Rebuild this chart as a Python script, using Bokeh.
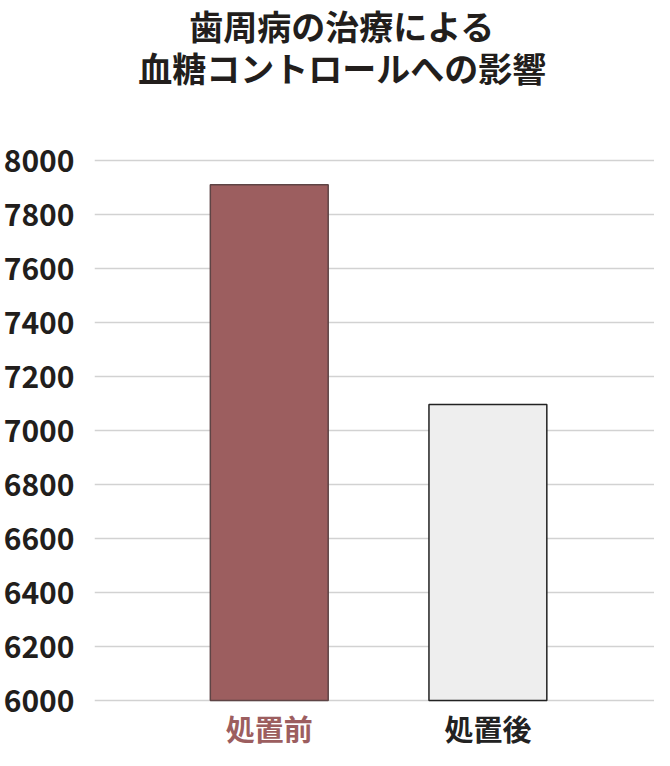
from bokeh.plotting import figure
from bokeh.models import Range1d, FixedTicker, ColumnDataSource
from bokeh.core.properties import value
from bokeh.embed import file_html
from bokeh.resources import INLINE

# ---- data ----
title_lines = ["歯周病の治療による", "血糖コントロールへの影響"]
categories = ["処置前", "処置後"]
values = [7910, 7096]
bar_colors = ["#9c5e5f", "#eeeeee"]
bar_line_colors = ["#5e4445", "#222222"]
label_colors = ["#9c5e5f", "#222222"]
y_ticks = [6000, 6200, 6400, 6600, 6800, 7000, 7200, 7400, 7600, 7800, 8000]

FONT = "Noto Sans CJK JP"
TXT = "#221e1c"

# ---- layout geometry (pixels) ----
W, H = 654, 750
frame_left = 91
y_top_px, y_bot_px = 160, 700          # pixel rows of the first/last tick
ppu_y = (y_bot_px - y_top_px) / (y_ticks[-1] - y_ticks[0])
y_end = y_ticks[-1] + y_top_px / ppu_y
y_start = y_ticks[0] - (H - y_bot_px) / ppu_y

bar_center_px = [266.7, 486.5]
ppu_x = bar_center_px[1] - bar_center_px[0]
x_start = -(bar_center_px[0] - frame_left) / ppu_x
x_end = 1 + (W - bar_center_px[1]) / ppu_x

def px_to_y(py):
    return y_ticks[-1] + (y_top_px - py) / ppu_y

def px_to_x(px):
    return x_start + (px - frame_left) / ppu_x

xs = list(range(len(categories)))
src = ColumnDataSource(dict(x=xs, top=values, fill=bar_colors, line=bar_line_colors))

p = figure(width=W, height=H, output_backend="svg", toolbar_location=None,
           x_range=Range1d(x_start, x_end), y_range=Range1d(y_start, y_end),
           min_border_left=frame_left, min_border_right=0,
           min_border_top=0, min_border_bottom=0)
p.title.visible = False
p.outline_line_color = None
p.background_fill_color = "white"
p.border_fill_color = "white"

p.vbar(x="x", top="top", bottom=y_ticks[0], width=118.5 / ppu_x, source=src,
       fill_color="fill", line_color="line", line_width=1.5)

p.xaxis.visible = False
p.xgrid.visible = False
p.ygrid.grid_line_color = "#d2d2d2"
p.ygrid.grid_line_width = 1.5
p.yaxis.ticker = FixedTicker(ticks=y_ticks)
p.yaxis.axis_line_color = None
p.yaxis.major_tick_line_color = None
p.yaxis.minor_tick_line_color = None
p.yaxis.major_tick_in = 0
p.yaxis.major_tick_out = 0
p.yaxis.major_label_standoff = 20
p.yaxis.major_label_text_font = FONT
p.yaxis.major_label_text_font_style = "bold"
p.yaxis.major_label_text_font_size = "30px"
p.yaxis.major_label_text_color = TXT

# category labels below the bars
p.text(x=xs, y=[px_to_y(727)] * len(xs), text=categories,
       text_align="center", text_baseline="middle",
       text_font=value(FONT), text_font_style="bold",
       text_font_size="29px", text_color=label_colors)

# title (two lines)
p.text(x=[px_to_x(340)] * 2, y=[px_to_y(25), px_to_y(67)], text=title_lines,
       text_align="center", text_baseline="middle",
       text_font=value(FONT), text_font_style="bold",
       text_font_size="34px", text_color=TXT)

open("out.html", "w").write(file_html(p, INLINE))
